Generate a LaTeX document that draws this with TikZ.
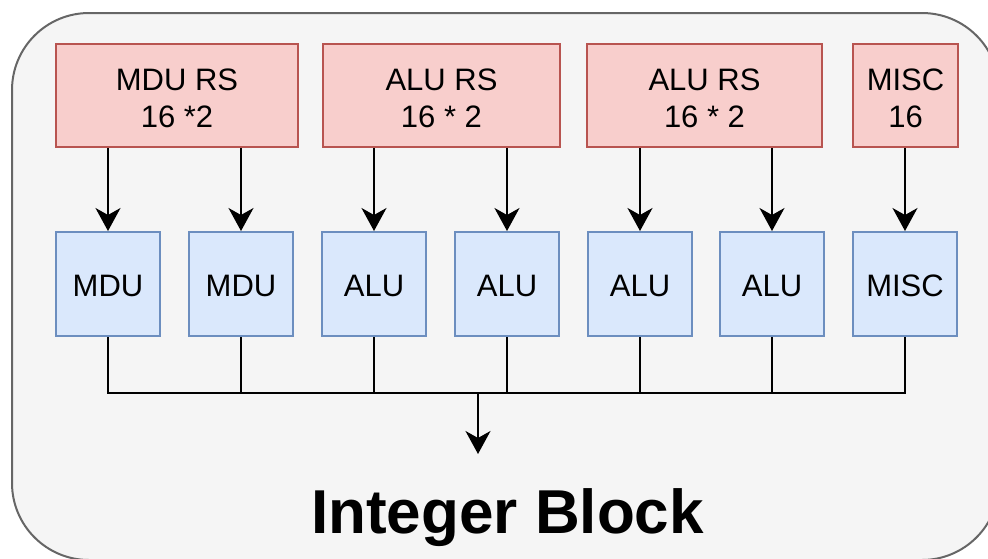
\documentclass[tikz,border=0pt]{standalone}
\usepackage{fontspec}
\setmainfont{Liberation Sans}
\usetikzlibrary{arrows.meta}
\definecolor{outerfill}{HTML}{F5F5F5}
\definecolor{outerline}{HTML}{666666}
\definecolor{redfill}{HTML}{F8CECC}
\definecolor{redline}{HTML}{B85450}
\definecolor{bluefill}{HTML}{DAE8FC}
\definecolor{blueline}{HTML}{6C8EBF}
\tikzset{
  boxtext/.style={align=center, inner sep=0pt, font=\fontsize{31}{37}\selectfont},
  rsbox/.style={draw=redline, fill=redfill, line width=2pt, minimum height=103pt,
    inner sep=0pt},
  unitbox/.style={draw=blueline, fill=bluefill, line width=2pt, minimum width=104pt,
    minimum height=104pt, inner sep=0pt},
  conn/.style={line width=2pt, black},
  arr/.style={conn, -{Stealth[length=23pt, width=25pt, inset=7pt]}}
}
\begin{document}
\begin{tikzpicture}[x=1pt, y=-1pt]
\useasboundingbox (0,0) rectangle (988,558);
\draw[fill=outerfill, draw=outerline, line width=2pt, rounded corners=77pt] (12,13) rectangle (999,560);

\node[rsbox, minimum width=242pt, label={[boxtext, yshift=-3pt]center:MDU RS\\16 *2}] (r1) at (177,95.5) {};
\node[rsbox, minimum width=237pt, label={[boxtext, yshift=-3pt]center:ALU RS\\16 * 2}] (r2) at (441.5,95.5) {};
\node[rsbox, minimum width=235pt, label={[boxtext, yshift=-3pt]center:ALU RS\\16 * 2}] (r3) at (704.5,95.5) {};
\node[rsbox, minimum width=105pt, label={[boxtext, yshift=-3pt]center:MISC\\16}] (r4) at (905.5,95.5) {};

\node[unitbox, label={[boxtext, yshift=-2pt]center:MDU}] (b1) at (108,284) {};
\node[unitbox, label={[boxtext, yshift=-2pt]center:MDU}] (b2) at (241,284) {};
\node[unitbox, label={[boxtext, yshift=-2pt]center:ALU}] (b3) at (374,284) {};
\node[unitbox, label={[boxtext, yshift=-2pt]center:ALU}] (b4) at (507,284) {};
\node[unitbox, label={[boxtext, yshift=-2pt]center:ALU}] (b5) at (640,284) {};
\node[unitbox, label={[boxtext, yshift=-2pt]center:ALU}] (b6) at (772,284) {};
\node[unitbox, label={[boxtext, yshift=-2pt]center:MISC}] (b7) at (905,284) {};

\draw[arr] (r1.south -| b1.north) -- (b1.north);
\draw[arr] (r1.south -| b2.north) -- (b2.north);
\draw[arr] (r2.south -| b3.north) -- (b3.north);
\draw[arr] (r2.south -| b4.north) -- (b4.north);
\draw[arr] (r3.south -| b5.north) -- (b5.north);
\draw[arr] (r3.south -| b6.north) -- (b6.north);
\draw[arr] (r4.south -| b7.north) -- (b7.north);

\coordinate (bus) at (478,393);
\coordinate (out) at (478,454);
\foreach \i in {1,...,7} {
  \draw[conn] (b\i.south) -- (b\i.south |- bus);
}
\draw[conn, line cap=rect] (b1.south |- bus) -- (b7.south |- bus);
\draw[arr] (bus) -- (out);

\node[anchor=base, inner sep=0pt, font=\bfseries\fontsize{62}{70}\selectfont] (title) at (507.5,533) {Integer Block};
\end{tikzpicture}
\end{document}
